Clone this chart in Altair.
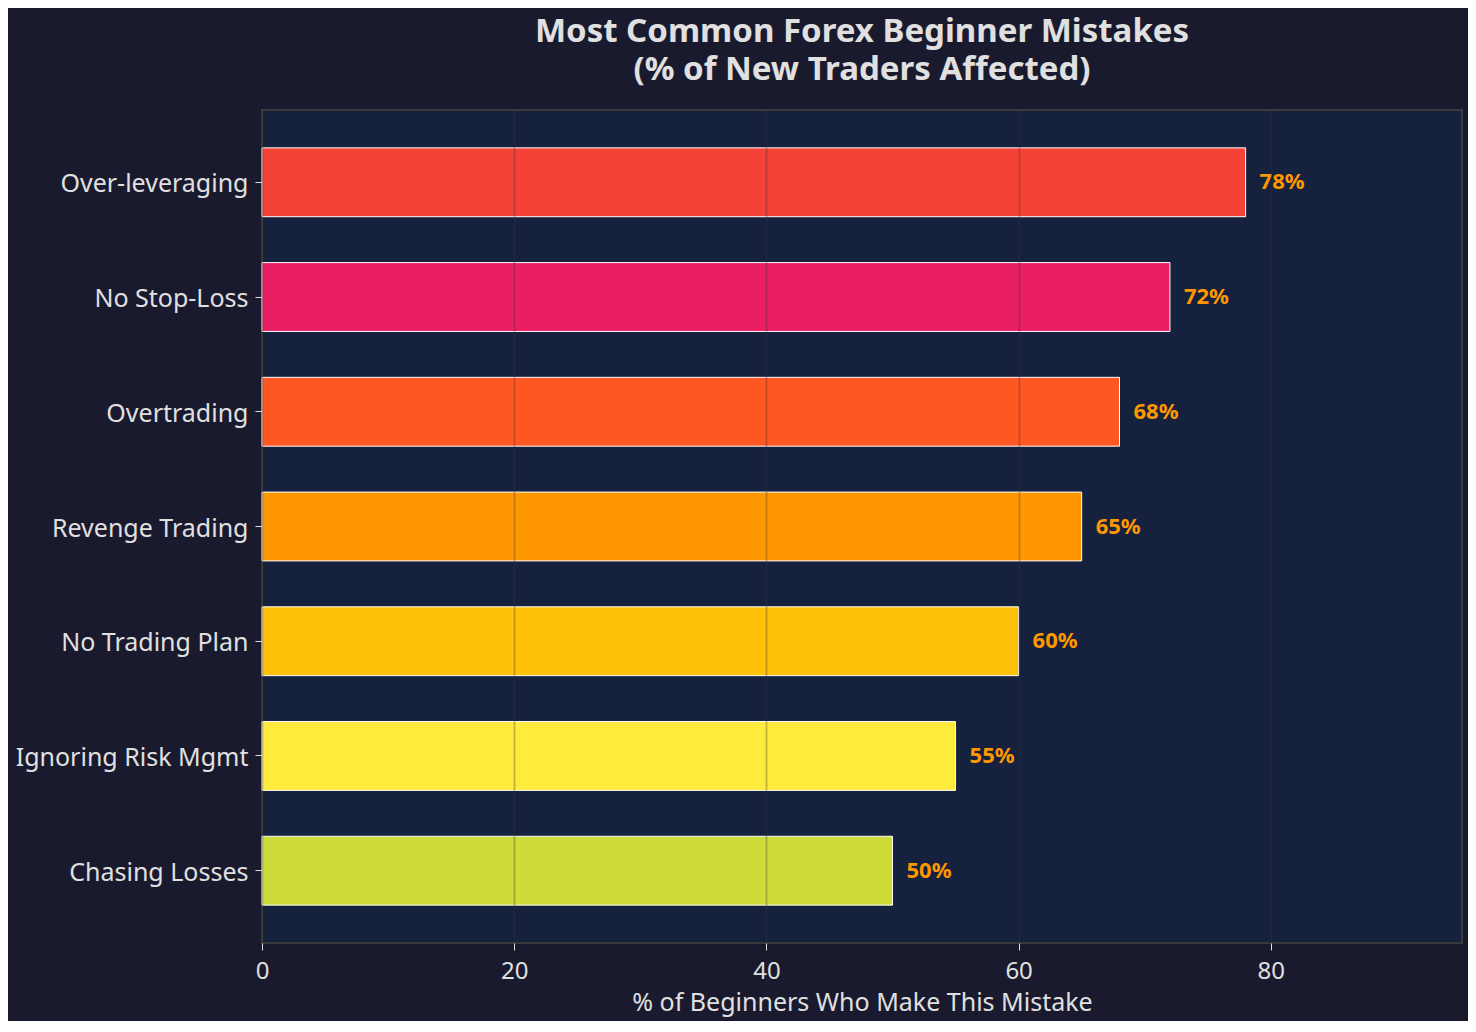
import altair as alt
import pandas as pd

mistakes = ["Over-leveraging", "No Stop-Loss", "Overtrading", "Revenge Trading",
            "No Trading Plan", "Ignoring Risk Mgmt", "Chasing Losses"]
percent = [78, 72, 68, 65, 60, 55, 50]
colors = ["#F44336", "#E91E63", "#FF5722", "#FF9800", "#FFC107", "#FFEB3B", "#CDDC39"]

df = pd.DataFrame({"mistake": mistakes, "pct": percent, "color": colors,
                   "label": [f"{p}%" for p in percent]})

FONT = "Noto Sans"
TXT = "#e0e0e0"

x_axis = alt.Axis(values=[0, 20, 40, 60, 80], labelFontSize=24, labelColor=TXT,
                  labelFont=FONT, labelFlush=False, titleFont=FONT, titleFontSize=25,
                  titleColor=TXT, titleFontWeight="normal", titlePadding=7,
                  tickColor=TXT, tickSize=7, labelPadding=9, domain=False,
                  grid=True, gridColor="#333333", gridOpacity=0.3,
                  gridWidth=1.8, zindex=1)
y_axis = alt.Axis(labelFontSize=25, labelColor=TXT, labelFont=FONT, labelLimit=400,
                  labelOffset=2, tickColor=TXT, tickSize=7, labelPadding=7,
                  domain=False, grid=False)
x_scale = alt.Scale(domain=[0, 95.16], nice=False, zero=True)
y_scale = alt.Scale(paddingInner=0.4, paddingOuter=0.33)
x_title = "% of Beginners Who Make This Mistake"

bars = alt.Chart(df).mark_bar(stroke="white", strokeWidth=1).encode(
    x=alt.X("pct:Q", scale=x_scale, title=x_title, axis=x_axis),
    y=alt.Y("mistake:N", sort=mistakes, title=None, scale=y_scale, axis=y_axis),
    color=alt.Color("color:N", scale=None),
)

labels = alt.Chart(df).mark_text(align="left", baseline="middle", dx=14,
                                 font=FONT, fontSize=22, fontWeight="bold",
                                 color="#FF9800").encode(
    x=alt.X("pct:Q", scale=x_scale, title=x_title, axis=x_axis),
    y=alt.Y("mistake:N", sort=mistakes, title=None, scale=y_scale, axis=y_axis),
    text="label:N",
)

chart = (bars + labels).properties(
    width=1200, height=833,
    background="#1a1a2e",
    padding={"left": 254, "top": 102, "right": 6, "bottom": 78},
    autosize=alt.AutoSizeParams(type="none"),
    title=alt.TitleParams(["Most Common Forex Beginner Mistakes", "(% of New Traders Affected)"],
                          font=FONT, fontSize=33, fontWeight="bold", color=TXT,
                          anchor="middle", lineHeight=38, offset=23),
).configure_view(fill="#16213e", stroke="#3a3a3a", strokeWidth=2)

chart.save("out.html", embed_options={"renderer": "svg", "actions": False})
